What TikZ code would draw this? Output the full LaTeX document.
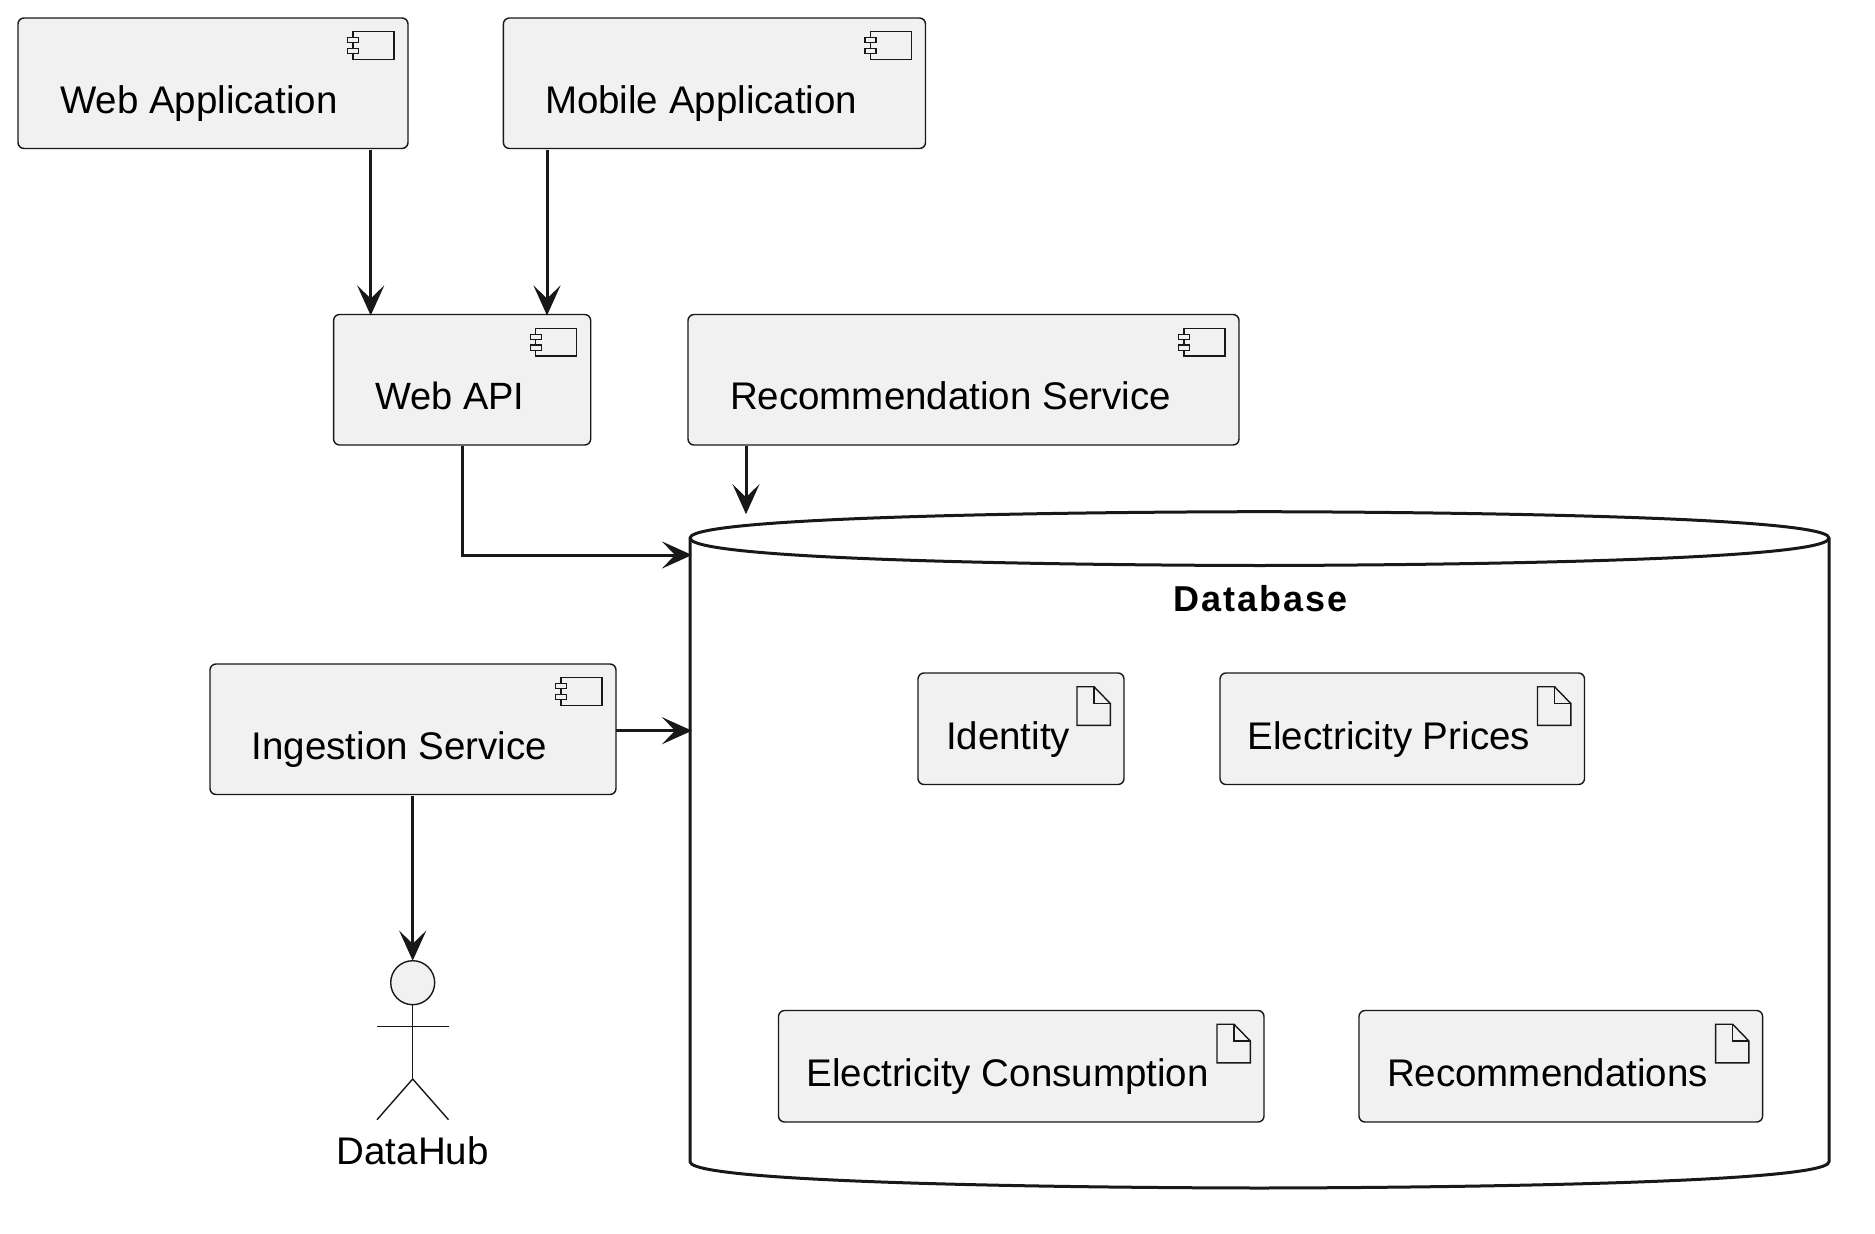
\documentclass[tikz,border=0pt]{standalone}
\usepackage{fontspec}
\setmainfont{Liberation Sans}
\usetikzlibrary{arrows.meta}
\definecolor{ink}{HTML}{181818}
\definecolor{boxfill}{HTML}{F1F1F1}
\tikzset{
  x=1pt,y=-1pt,
  box/.style={draw=ink,fill=boxfill,line width=1.4pt,rounded corners=6pt,inner sep=0pt,outer sep=0pt},
  compbox/.style={box,minimum height=130.5pt},
  artbox/.style={box,minimum height=111.5pt},
  lbl/.style={inner sep=0pt,outer sep=0pt,anchor=base west,text=black,font=\fontsize{38.5}{46}\selectfont},
  thin line/.style={draw=ink,line width=1.4pt},
  conn/.style={draw=ink,line width=3pt,-{Stealth[length=30pt,width=27pt,inset=13pt]},shorten <=1pt,shorten >=-1pt},
  dbline/.style={draw=ink,line width=3pt,line join=round},
}
\newcommand{\compicon}[1]{%
  \begin{scope}[shift={(#1.north east)}]
    \draw[thin line,fill=boxfill] (-55,13.7) rectangle (-14.2,41.3);
    \draw[thin line,fill=boxfill] (-60.5,19.7) rectangle (-49.5,24.7);
    \draw[thin line,fill=boxfill] (-60.5,30.3) rectangle (-49.5,35.7);
  \end{scope}}
\newcommand{\docicon}[1]{%
  \begin{scope}[shift={(#1.north east)}]
    \draw[thin line,fill=boxfill] (-47,13.7) -- (-30,13.7) -- (-13.7,30.5) -- (-13.7,52.3) -- (-47,52.3) -- cycle;
    \draw[thin line] (-30,13.7) -- (-30,30.5) -- (-13.7,30.5);
  \end{scope}}
\begin{document}
\begin{tikzpicture}
\useasboundingbox (0,0) rectangle (1875,1234);

% database
\node[minimum width=1139pt,minimum height=676.3pt,inner sep=0pt,outer sep=0pt] (db) at (1259.5,849.85) {};
\draw[dbline] (690,538) .. controls (690,511.7) and (1259.5,511.7) .. (1259.5,511.7)
  .. controls (1259.5,511.7) and (1829,511.7) .. (1829,538)
  -- (1829,1161.7) .. controls (1829,1188) and (1259.5,1188) .. (1259.5,1188)
  .. controls (1259.5,1188) and (690,1188) .. (690,1161.7) -- cycle;
\draw[dbline] (690,538) .. controls (690,565.5) and (1259.5,565.5) .. (1259.5,565.5)
  .. controls (1259.5,565.5) and (1829,565.5) .. (1829,538);
\node[lbl,anchor=base,font=\fontsize{36}{43}\selectfont\bfseries\addfontfeature{LetterSpace=5.5}] (dbL) at (1260.5,611.5) {Database};

% components
\node[compbox,minimum width=390pt] (webapp) at (213,83.25) {};
\compicon{webapp}
\node[lbl] (webappL) at (60,113.4) {Web Application};
\node[compbox,minimum width=422.1pt] (mobile) at (714.45,83.25) {};
\compicon{mobile}
\node[lbl] (mobileL) at (545,113.4) {Mobile Application};
\node[compbox,minimum width=257.1pt] (webapi) at (462.15,379.75) {};
\compicon{webapi}
\node[lbl,font=\fontsize{38}{46}\selectfont] (webapiL) at (375.3,409.6) {Web API};
\node[compbox,minimum width=551pt] (rec) at (963.5,379.75) {};
\compicon{rec}
\node[lbl] (recL) at (730,409.6) {Recommendation Service};
\node[compbox,minimum width=406pt] (ingest) at (413,729.25) {};
\compicon{ingest}
\node[lbl] (ingestL) at (251.7,759) {Ingestion Service};

% artifacts
\node[artbox,minimum width=206pt] (identity) at (1021,728.75) {};
\docicon{identity}
\node[lbl] (identityL) at (946,749) {Identity};
\node[artbox,minimum width=364.5pt] (prices) at (1402.25,728.75) {};
\docicon{prices}
\node[lbl] (pricesL) at (1247.6,749) {Electricity Prices};
\node[artbox,minimum width=485.5pt] (cons) at (1021.25,1066.25) {};
\docicon{cons}
\node[lbl] (consL) at (806.5,1086.5) {Electricity Consumption};
\node[artbox,minimum width=403.6pt] (recs) at (1560.8,1066.25) {};
\docicon{recs}
\node[lbl] (recsL) at (1387,1086.5) {Recommendations};

% actor
\node[circle,draw=ink,fill=boxfill,line width=1.4pt,minimum size=44pt,inner sep=0pt,outer sep=0pt] (head) at (412.7,982.7) {};
\coordinate (hip) at (412.7,1079);
\coordinate (armL) at (377,1026.7);
\coordinate (armR) at (448.5,1026.7);
\coordinate (footL) at (377,1119.7);
\coordinate (footR) at (448.5,1119.7);
\draw[thin line] (head.south) -- (hip);
\draw[thin line] (armL) -- (armR);
\draw[thin line] (footL) -- (hip) -- (footR);
\node[lbl,anchor=base] (actorL) at (412.7,1164) {DataHub};

% connectors
\coordinate (xa) at (370.7,0);
\coordinate (xb) at (547,0);
\coordinate (xc) at (746,0);
\coordinate (ya) at (0,555);
\coordinate (yb) at (0,730.7);
\draw[conn] (webapp.south -| xa) -- (webapi.north -| xa);
\draw[conn] (mobile.south -| xb) -- (webapi.north -| xb);
\draw[conn,shorten >=-2.5pt] (rec.south -| xc) -- (db.north -| xc);
\draw[conn,shorten >=-2pt] (webapi.south) |- (db.west |- ya);
\draw[conn,shorten <=0pt,shorten >=-2pt] (ingest.east |- yb) -- (db.west |- yb);
\draw[conn,shorten >=0pt] (ingest.south -| head.north) -- (head.north);
\end{tikzpicture}
\end{document}
